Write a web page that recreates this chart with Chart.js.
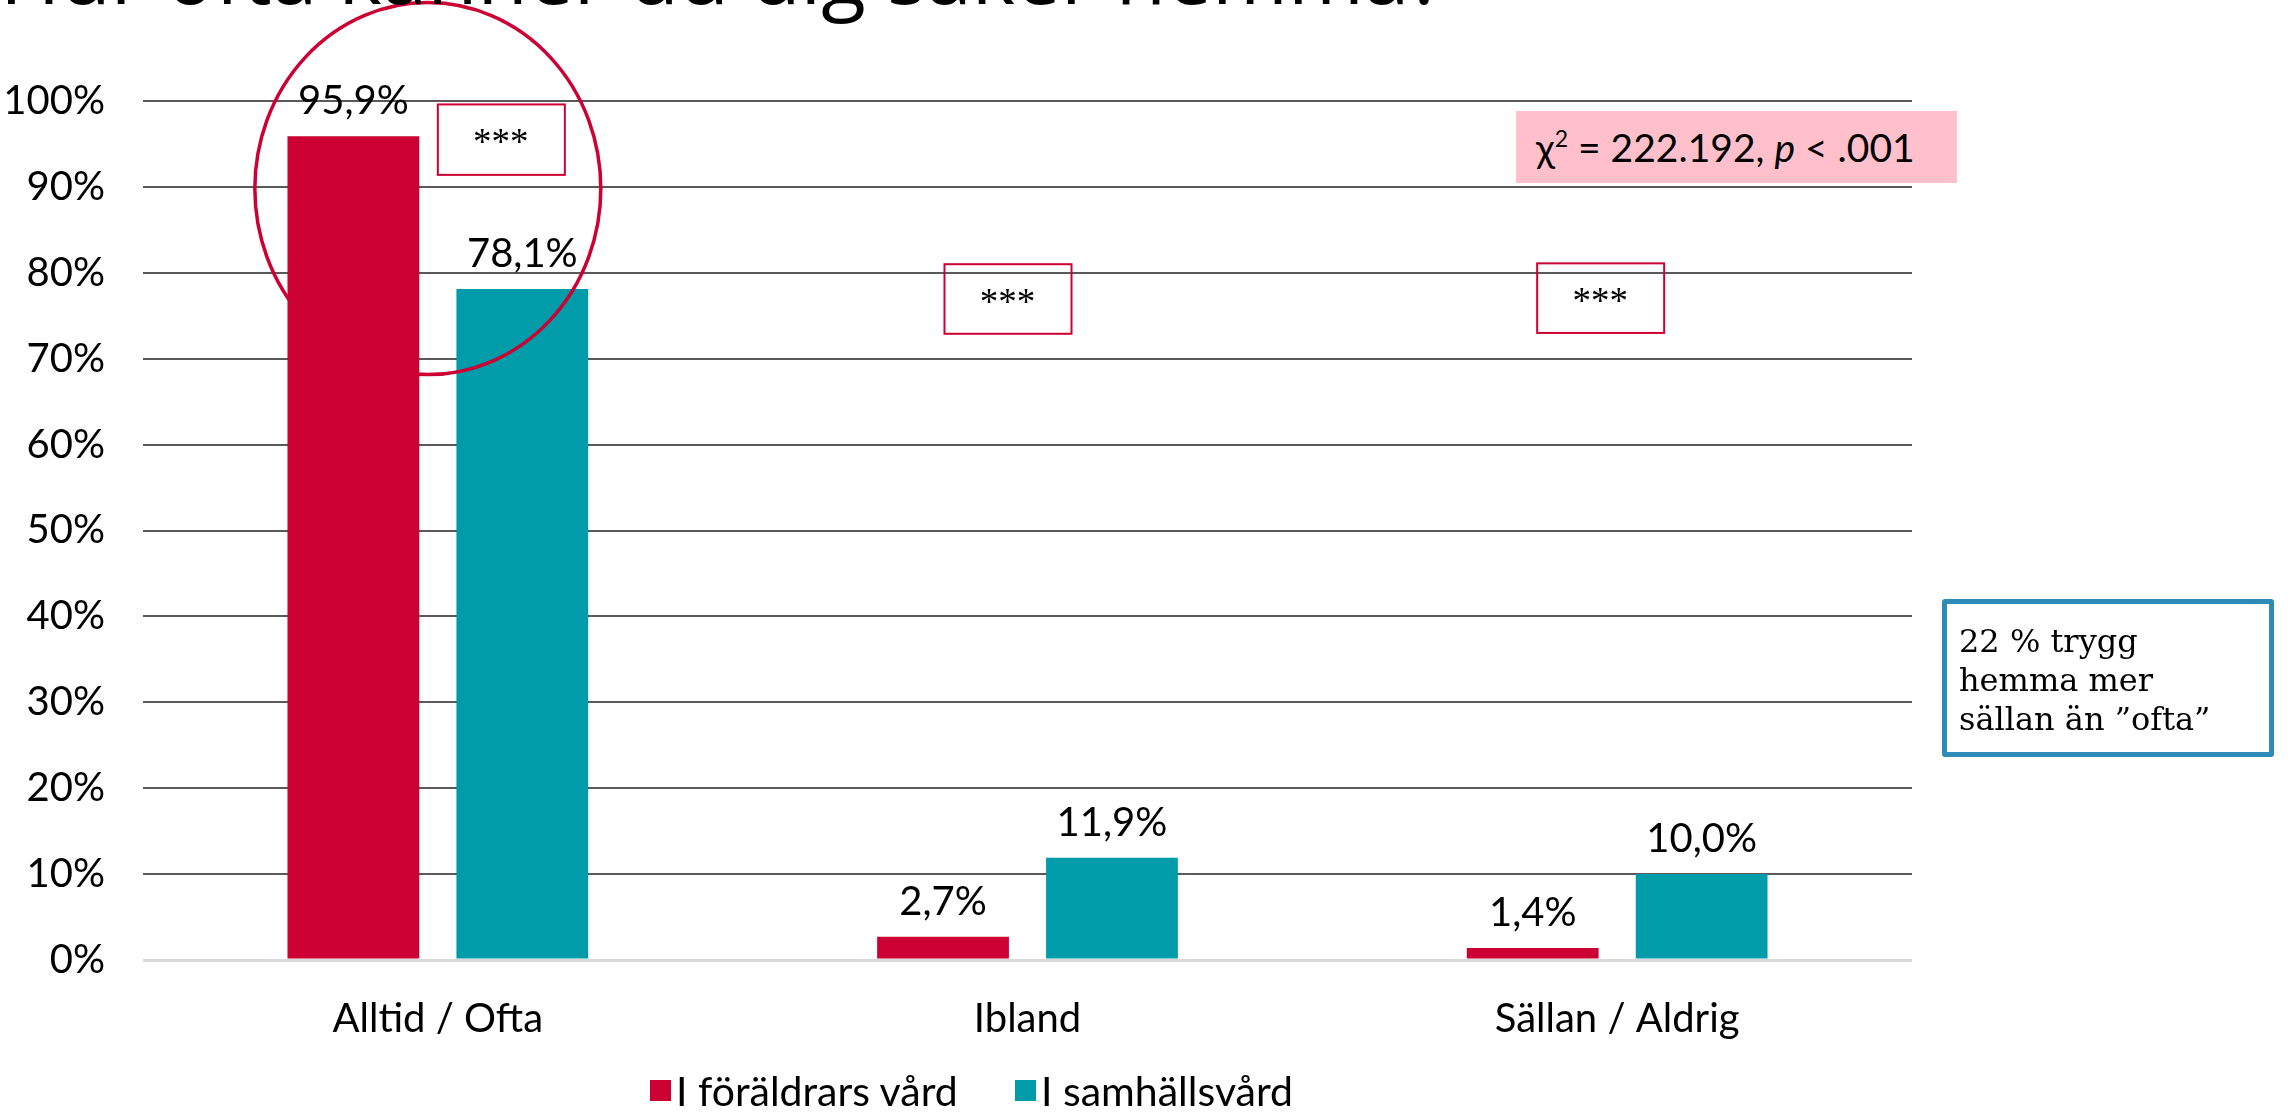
<!DOCTYPE html>
<html lang="sv">
<head>
<meta charset="utf-8">
<title>Hur ofta känner du dig säker hemma?</title>
<script src="https://cdn.jsdelivr.net/npm/chart.js@4.4.1/dist/chart.umd.min.js"></script>
<style>
  html, body { margin: 0; padding: 0; background: #fff; }
  body { width: 2290px; height: 1112px; position: relative; overflow: hidden; font-family: Lato, "Liberation Sans", sans-serif; color: #000; }
  #chart { position: absolute; left: 0; top: 0; }
  #title { position: absolute; left: 0; top: -69px; font-family: "Open Sans", sans-serif; font-size: 82px; line-height: 1; white-space: nowrap; }
  #chi { position: absolute; left: 1516px; top: 111px; width: 441px; height: 72px; background: #FFC0CB;
         font-size: 39px; line-height: 72px; padding-left: 20px; box-sizing: border-box; white-space: nowrap; }
  #chi sup { font-size: 23px; line-height: 0; vertical-align: 15px; }
  #note { position: absolute; left: 1942px; top: 599px; width: 332px; height: 158px; border: 5px solid #2E8BB7;
          box-sizing: border-box; border-radius: 3px; font-family: "DejaVu Serif", serif; font-size: 32px;
          line-height: 39px; padding: 18px 0 0 12px; white-space: nowrap; }
  .leg { position: absolute; top: 1070px; height: 40px; display: flex; align-items: center; font-size: 41px; white-space: nowrap; }
  .leg i { display: inline-block; width: 21px; height: 21px; margin-right: 5px; }
</style>
</head>
<body>
<canvas id="chart" width="2290" height="1112"></canvas>
<div id="title">Hur ofta känner du dig säker hemma?</div>
<div id="chi">χ<sup>2</sup> = 222.192, <i>p</i> &lt; .001</div>
<div id="note">22 % trygg<br>hemma mer<br>sällan än ”ofta”</div>
<div id="legend"></div>

<script>
// ---- data ----
const categories = ["Alltid / Ofta", "Ibland", "Sällan / Aldrig"];
const seriesNames = ["I föräldrars vård", "I samhällsvård"];
const foraldrarsVard = [95.9, 2.7, 1.4];
const samhallsVard = [78.1, 11.9, 10.0];
const seriesColors = ["#CC0033", "#009CA9"];
const yTickMin = 0, yTickMax = 100, yTickStep = 10;

// significance boxes: category index, x shift (px), y range in %
const sigMarks = [
  { cat: 0, dx: 63, top: 99.6, bottom: 91.4 },
  { cat: 1, dx: -20, top: 81.0, bottom: 72.9 },
  { cat: 2, dx: -17, top: 81.1, bottom: 73.0 },
];

const fmt = v => v.toFixed(1).replace(".", ",") + "%";

// ---- value labels over the bars ----
const valueLabels = {
  id: "valueLabels",
  afterDatasetsDraw(chart) {
    const ctx = chart.ctx;
    ctx.save();
    ctx.font = "40px Lato";
    ctx.fillStyle = "#000";
    ctx.textAlign = "center";
    ctx.textBaseline = "middle";
    chart.data.datasets.forEach((ds, i) => {
      chart.getDatasetMeta(i).data.forEach((bar, j) => {
        ctx.fillText(fmt(ds.data[j]), bar.x, bar.y - 35);
      });
    });
    ctx.restore();
  }
};

// ---- ellipse + *** boxes ----
const marks = {
  id: "marks",
  afterDatasetsDraw(chart) {
    const { ctx, scales: { x, y } } = chart;
    ctx.save();
    // red ring round the first group
    ctx.strokeStyle = "#CC0033";
    ctx.lineWidth = 3.5;
    ctx.beginPath();
    ctx.ellipse(x.getPixelForValue(0) - 10, y.getPixelForValue(89.8), 173, 186, 0, 0, Math.PI * 2);
    ctx.stroke();

    ctx.lineWidth = 2;
    ctx.font = "37px 'Liberation Serif'";
    ctx.fillStyle = "#000";
    ctx.textAlign = "center";
    ctx.textBaseline = "middle";
    sigMarks.forEach(m => {
      const cx = x.getPixelForValue(m.cat) + m.dx;
      const t = y.getPixelForValue(m.top), b = y.getPixelForValue(m.bottom);
      ctx.strokeRect(cx - 63, t, 127, b - t);
      ctx.fillText("***", cx, t + 40);
    });
    ctx.restore();
  }
};

new Chart(document.getElementById("chart"), {
  type: "bar",
  data: {
    labels: categories,
    datasets: [
      { label: seriesNames[0], data: foraldrarsVard, backgroundColor: seriesColors[0] },
      { label: seriesNames[1], data: samhallsVard, backgroundColor: seriesColors[1] },
    ]
  },
  options: {
    responsive: false,
    animation: false,
    devicePixelRatio: 1,
    layout: { padding: { left: 0, right: 378, top: 101, bottom: 0 } },
    datasets: { bar: { categoryPercentage: 0.573, barPercentage: 0.78 } },
    scales: {
      x: {
        afterFit: s => { s.height = 152; },
        grid: { display: false },
        border: { display: false },
        ticks: { color: "#000", font: { family: "Lato", size: 40 }, padding: 27 },
      },
      y: {
        min: yTickMin,
        max: yTickMax,
        afterFit: s => { s.width = 143; },
        border: { display: false },
        grid: {
          drawTicks: false,
          color: c => c.tick.value === 0 ? "#D9D9D9" : "#595959",
          lineWidth: c => c.tick.value === 0 ? 3 : 2,
        },
        ticks: {
          stepSize: yTickStep,
          color: "#000",
          font: { family: "Lato", size: 40 },
          padding: 38,
          callback: v => v + "%",
        },
      },
    },
    plugins: {
      legend: { display: false },
      tooltip: { enabled: false },
    }
  },
  plugins: [valueLabels, marks]
});

// ---- legend ----
const legendLeft = [650, 1015];
document.getElementById("legend").innerHTML = seriesNames.map((n, i) =>
  `<div class="leg" style="left:${legendLeft[i]}px"><i style="background:${seriesColors[i]}"></i>${n}</div>`
).join("");
</script>
</body>
</html>
